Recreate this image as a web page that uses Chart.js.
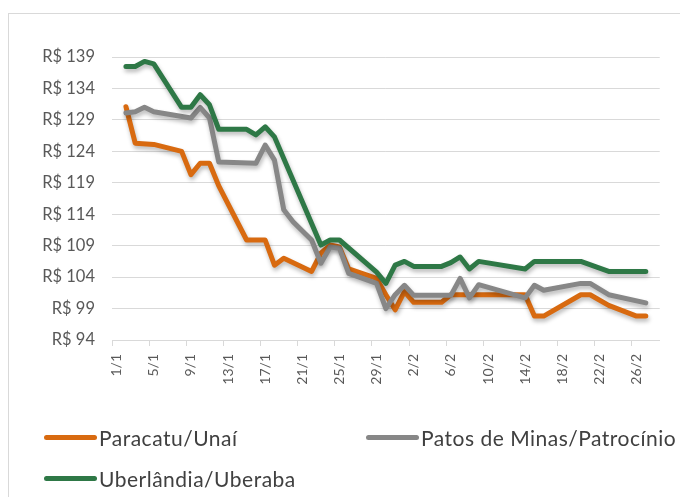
<!DOCTYPE html>
<html>
<head>
<meta charset="utf-8">
<script src="https://cdn.jsdelivr.net/npm/chart.js@4.4.1/dist/chart.umd.min.js"></script>
<style>
  html, body { margin: 0; padding: 0; background: #fff; overflow: hidden; width: 680px; height: 497px; }
  #wrap { position: relative; width: 680px; height: 497px; }
  #frame { position: absolute; left: 8px; top: 13px; width: 700px; height: 520px; border: 1px solid #d9d9d9; box-sizing: border-box; }
  canvas { position: absolute; left: 0; top: 0; }
  .lg { position: absolute; display: flex; align-items: center; font-family: Lato, "Open Sans", sans-serif; font-size: 21px; letter-spacing: 0.5px; color: #404040; white-space: nowrap; }
  .lg .sw { width: 53px; height: 5px; border-radius: 3px; margin-right: 2px; }
</style>
</head>
<body>
<div id="wrap">
  <div id="frame"></div>
  <canvas id="c" width="680" height="497"></canvas>
  <div id="legend"></div>
</div>
<script>
const categories = [
  "1/1","2/1","3/1","4/1","5/1","6/1","7/1","8/1","9/1","10/1",
  "11/1","12/1","13/1","14/1","15/1","16/1","17/1","18/1","19/1","20/1",
  "21/1","22/1","23/1","24/1","25/1","26/1","27/1","28/1","29/1","30/1",
  "31/1","1/2","2/2","3/2","4/2","5/2","6/2","7/2","8/2","9/2",
  "10/2","11/2","12/2","13/2","14/2","15/2","16/2","17/2","18/2","19/2",
  "20/2","21/2","22/2","23/2","24/2","25/2","26/2","27/2","28/2"
];

const seriesNames = ["Paracatu/Unaí", "Patos de Minas/Patrocínio", "Uberlândia/Uberaba"];

const paracatu = [
  null, 131.1, 125.3, null, 125.1, null, null, 124.0, 120.3, 122.1,
  122.1, 118.5, null, null, 109.9, null, 109.9, 105.9, 107.0, null,
  null, 104.9, 107.8, 109.1, 108.8, 105.3, null, null, 103.8, 101.2,
  98.8, 101.7, 100.0, null, null, 100.0, 101.2, null, null, null,
  null, null, null, null, 101.2, 97.8, 97.8, null, null, null,
  101.2, 101.2, null, 99.5, null, null, 97.8, 97.8, null
];

const patos = [
  null, 130.1, 130.3, 131.0, 130.3, null, null, null, 129.3, 131.0,
  129.3, 122.3, null, null, null, 122.1, 125.0, 122.6, 114.7, 112.8,
  null, 109.9, 106.2, 108.8, 108.6, 104.6, null, null, 103.0, 99.0,
  101.2, 102.7, 101.1, null, null, 101.1, 101.1, 103.8, 100.7, 102.8,
  null, null, null, null, 100.7, 102.7, 101.9, null, null, null,
  103.0, 103.0, null, 101.2, null, null, null, 99.9, null
];

const uberlandia = [
  null, 137.5, 137.5, 138.3, 137.9, null, null, 131.0, 131.0, 133.0,
  131.4, 127.5, null, null, 127.5, 126.6, 127.9, 126.3, null, null,
  null, null, 109.1, 109.9, 109.9, null, null, null, 104.8, 103.0,
  105.9, 106.5, 105.7, null, null, 105.7, 106.3, 107.2, 105.3, 106.5,
  null, null, null, null, 105.3, 106.5, null, null, null, null,
  106.5, null, null, 104.9, null, null, null, 104.9, null
];

const yTicks = [94, 99, 104, 109, 114, 119, 124, 129, 134, 139];

const colors = ["#d86a10", "#878787", "#2e7846"];

const shadowPlugin = {
  id: 'lineShadow',
  beforeDatasetDraw(chart) {
    const ctx = chart.ctx;
    ctx.save();
    ctx.shadowColor = 'rgba(0,0,0,0.28)';
    ctx.shadowBlur = 4;
    ctx.shadowOffsetX = 1;
    ctx.shadowOffsetY = 3;
  },
  afterDatasetDraw(chart) {
    chart.ctx.restore();
  }
};

function ds(label, data, color, order) {
  return {
    label, data,
    borderColor: color,
    backgroundColor: color,
    borderWidth: 5,
    pointRadius: 0,
    pointHoverRadius: 0,
    tension: 0,
    spanGaps: true,
    borderCapStyle: 'round',
    borderJoinStyle: 'round',
    order
  };
}

new Chart(document.getElementById('c'), {
  type: 'line',
  data: {
    labels: categories,
    datasets: [
      ds(seriesNames[0], paracatu, colors[0], 3),
      ds(seriesNames[1], patos, colors[1], 2),
      ds(seriesNames[2], uberlandia, colors[2], 1)
    ]
  },
  plugins: [shadowPlugin],
  options: {
    responsive: false,
    animation: false,
    events: [],
    layout: { padding: { top: 57, right: 13, bottom: 0, left: 0 } },
    plugins: { legend: { display: false }, tooltip: { enabled: false } },
    scales: {
      x: {
        type: 'category',
        offset: true,
        afterFit(axis) { axis.height = 157; },
        grid: {
          display: true,
          offset: true,
          drawOnChartArea: false,
          drawTicks: true,
          tickLength: 6,
          tickColor: (ctx) => (ctx.index % 4 === 0 ? '#d9d9d9' : 'rgba(0,0,0,0)'),
          lineWidth: 1
        },
        border: { display: true, color: '#d9d9d9', width: 1 },
        ticks: {
          autoSkip: false,
          maxRotation: 90,
          minRotation: 90,
          padding: 8,
          color: '#595959',
          font: { family: 'Lato, "Open Sans", sans-serif', size: 14 },
          callback: (v, i) => (i % 4 === 0 ? categories[i] : '')
        }
      },
      y: {
        min: yTicks[0],
        max: yTicks[yTicks.length - 1],
        afterFit(axis) { axis.width = 112; },
        afterBuildTicks(axis) { axis.ticks = yTicks.map(v => ({ value: v })); },
        grid: { color: '#d9d9d9', lineWidth: 1, drawTicks: false },
        border: { display: false },
        ticks: {
          padding: 17,
          color: '#595959',
          font: { family: 'Lato, "Open Sans", sans-serif', size: 16.5 },
          callback: (v) => 'R$ ' + v
        }
      }
    }
  }
});

// Legend (HTML text)
const legendItems = [
  { name: seriesNames[0], color: colors[0], left: 44, top: 437 },
  { name: seriesNames[1], color: colors[1], left: 366, top: 437 },
  { name: seriesNames[2], color: colors[2], left: 44, top: 478 }
];
const lg = document.getElementById('legend');
legendItems.forEach(it => {
  const d = document.createElement('div');
  d.className = 'lg';
  d.style.left = it.left + 'px';
  d.style.top = (it.top - 13) + 'px';
  d.style.height = '26px';
  const sw = document.createElement('span');
  sw.className = 'sw';
  sw.style.background = it.color;
  const t = document.createElement('span');
  t.textContent = it.name;
  d.appendChild(sw);
  d.appendChild(t);
  lg.appendChild(d);
});
</script>
</body>
</html>
